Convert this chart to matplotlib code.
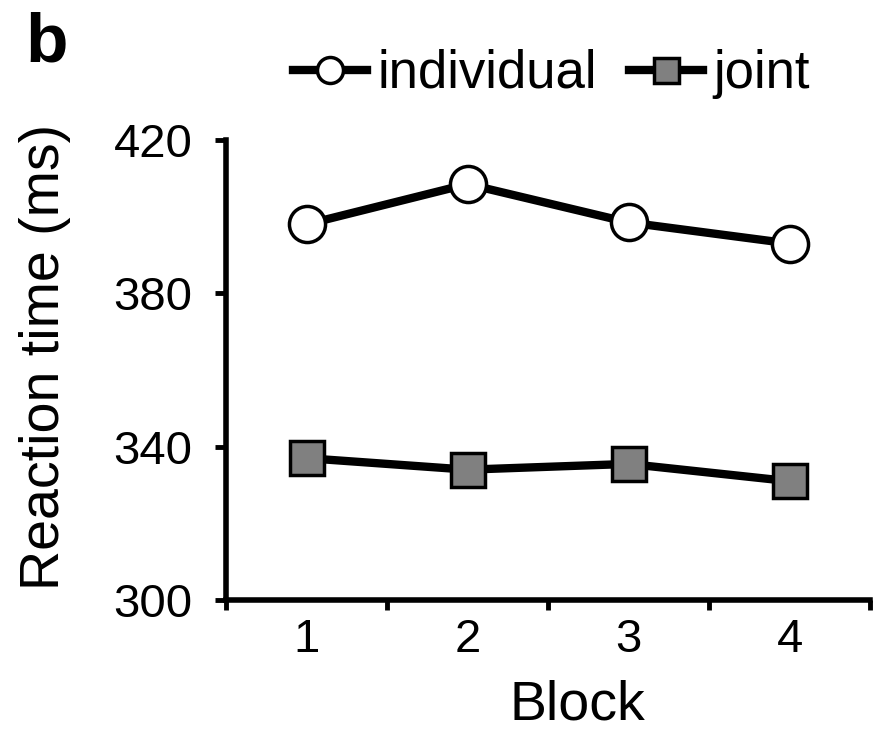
import matplotlib
matplotlib.use("Agg")
import matplotlib.pyplot as plt
from matplotlib import font_manager

# values (panel b)
blocks = [1, 2, 3, 4]
block_labels = ["1", "2", "3", "4"]
individual_rt = [398, 408.5, 398.5, 393]
joint_rt = [337, 334, 335.5, 331]
y_ticks = [300, 340, 380, 420]

plt.rcParams['font.family'] = ['Liberation Sans', 'DejaVu Sans']

# narrow face for tick numbers if it is there
names = {f.name for f in font_manager.fontManager.ttflist}
tick_font = 'Liberation Sans Narrow' if 'Liberation Sans Narrow' in names else 'Liberation Sans'
tick_size = 38 if tick_font == 'Liberation Sans Narrow' else 34

fig = plt.figure(figsize=(8.74, 7.35), dpi=100)
ax = fig.add_axes([226 / 874, 1 - 600 / 735, (870 - 226) / 874, (600 - 140) / 735])

ax.plot(blocks, individual_rt, color='black', lw=6, marker='o', ms=26,
        mfc='white', mec='black', mew=2.5, label='individual', zorder=3)
ax.plot(blocks, joint_rt, color='black', lw=6, marker='s', ms=25,
        mfc='#808080', mec='black', mew=2.5, label='joint', zorder=3)

ax.set_xlim(0.5, 4.5)
ax.set_ylim(300, 420)

# category boundaries get the tick marks, labels sit in between
ax.set_xticks([0.5, 1.5, 2.5, 3.5, 4.5])
ax.set_xticklabels([])
ax.set_xticks(blocks, minor=True)
ax.set_xticklabels(block_labels, minor=True, fontfamily=tick_font, fontsize=tick_size)
ax.tick_params(axis='x', which='major', direction='out', length=7, width=3.5)
ax.tick_params(axis='x', which='minor', length=0, pad=13)

ax.set_yticks(y_ticks)
ax.set_yticklabels([str(v) for v in y_ticks], fontfamily=tick_font, fontsize=tick_size)
ax.tick_params(axis='y', direction='out', length=8, width=3.5, pad=16)

for side in ['top', 'right']:
    ax.spines[side].set_visible(False)
for side in ['left', 'bottom']:
    ax.spines[side].set_linewidth(4)

fig.text(45 / 874, 1 - 357 / 735, 'Reaction time (ms)', rotation=90,
         ha='center', va='center', fontsize=40)
fig.text(577 / 874, 1 - 706 / 735, 'Block', ha='center', va='center', fontsize=40)
fig.text(25 / 874, 1 - 62 / 735, 'b', ha='left', va='baseline',
         fontsize=50, fontweight='bold')

ax.legend(loc='center left', bbox_to_anchor=(293 / 874, 1 - 74 / 735),
          bbox_transform=fig.transFigure, ncol=2, frameon=False,
          fontsize=38, handlelength=1.4, handletextpad=0.2,
          columnspacing=0.6, borderpad=0, borderaxespad=0, markerscale=0.72)

fig.savefig('out.png', dpi=100, facecolor='white')
